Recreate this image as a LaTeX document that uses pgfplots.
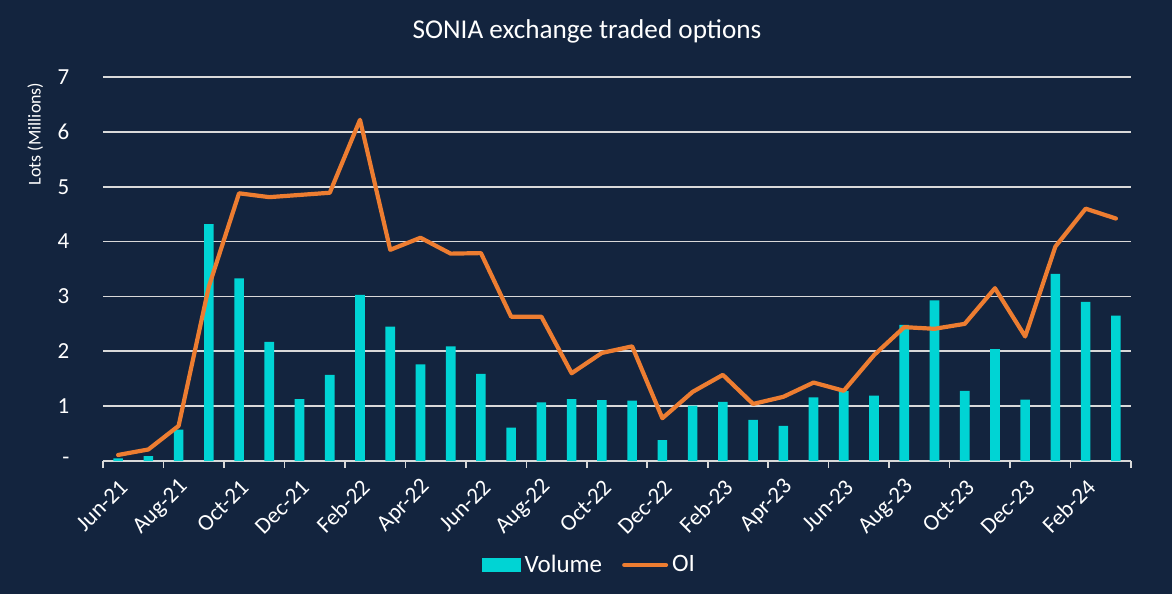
\documentclass[border=0pt]{standalone}
\usepackage{pgfplots}
\usepackage{pgfplotstable}
\pgfplotsset{compat=1.18}
\usepackage{fontspec}
\setmainfont{Carlito}

\definecolor{bg}{HTML}{13243E}
\definecolor{volcol}{HTML}{00D4D4}
\definecolor{oicol}{HTML}{ED7D31}
\definecolor{gridcol}{HTML}{D9D9D9}

% month index, volume and open interest (millions of lots)
\pgfplotstableread{
idx vol oi
0 0.05 0.11
1 0.09 0.21
2 0.57 0.64
3 4.32 3.18
4 3.33 4.88
5 2.17 4.81
6 1.13 4.85
7 1.57 4.89
8 3.03 6.22
9 2.45 3.85
10 1.76 4.07
11 2.09 3.78
12 1.59 3.79
13 0.61 2.63
14 1.07 2.63
15 1.13 1.60
16 1.11 1.97
17 1.10 2.09
18 0.38 0.78
19 1.01 1.26
20 1.08 1.57
21 0.75 1.04
22 0.64 1.17
23 1.16 1.43
24 1.28 1.28
25 1.19 1.93
26 2.48 2.44
27 2.93 2.41
28 1.28 2.50
29 2.04 3.15
30 1.12 2.27
31 3.41 3.91
32 2.90 4.60
33 2.65 4.42
}\sonia

\begin{document}
\begin{tikzpicture}[x=1pt,y=1pt]
\fill[bg] (0,0) rectangle (586,297);
\node[white, font=\fontsize{13.6}{15}\selectfont] at (293.5,281.5) {SONIA exchange traded options};
\node[white, rotate=90, font=\fontsize{9}{11}\selectfont] at (17.7,230) {Lots (Millions)};
\begin{axis}[
  at={(51.5pt,66.5pt)}, anchor=south west,
  scale only axis, width=514pt, height=192pt,
  xmin=-0.5, xmax=33.5, ymin=0, ymax=7,
  axis x line*=bottom, axis y line*=left,
  x axis line style={draw=gridcol, line width=0.8pt},
  y axis line style={draw=none},
  ytick={0,1,...,7},
  yticklabels={-\hspace{5pt},1,2,3,4,5,6,7},
  ymajorgrids, grid style={gridcol, line width=0.9pt},
  major y tick style={draw=none},
  xtick={0,2,...,32},
  xticklabels={Jun-21,Aug-21,Oct-21,Dec-21,Feb-22,Apr-22,Jun-22,Aug-22,Oct-22,Dec-22,Feb-23,Apr-23,Jun-23,Aug-23,Oct-23,Dec-23,Feb-24},
  major x tick style={draw=none},
  minor xtick={-0.5,1.5,...,33.5},
  minor tick length=3.5pt, tick align=outside,
  minor x tick style={gridcol, line width=0.8pt},
  tick label style={white, font=\fontsize{11.5}{13}\selectfont},
  yticklabel style={xshift=-9pt},
  xticklabel style={rotate=45, anchor=east, xshift=0.5pt, yshift=-7pt},
  legend style={at={(0.474,-0.271)}, anchor=center, draw=none, fill=none,
    text=white, font=\fontsize{12.5}{14}\selectfont, legend columns=2,
    /tikz/every even column/.append style={column sep=8pt}},
]
\addplot[ybar, bar width=4.8pt, fill=volcol, draw=none,
  legend image code/.code={\fill[volcol] (0pt,-3.3pt) rectangle (19.5pt,3.3pt);}]
  table[x=idx, y=vol] {\sonia};
\addlegendentry{Volume}
\addplot[oicol, line width=2.1pt, line join=round, line cap=round, mark=none,
  legend image code/.code={\draw[oicol, line width=2pt] (0pt,0pt) -- (21pt,0pt);}]
  table[x=idx, y=oi] {\sonia};
\addlegendentry{OI}
\end{axis}
\end{tikzpicture}
\end{document}
